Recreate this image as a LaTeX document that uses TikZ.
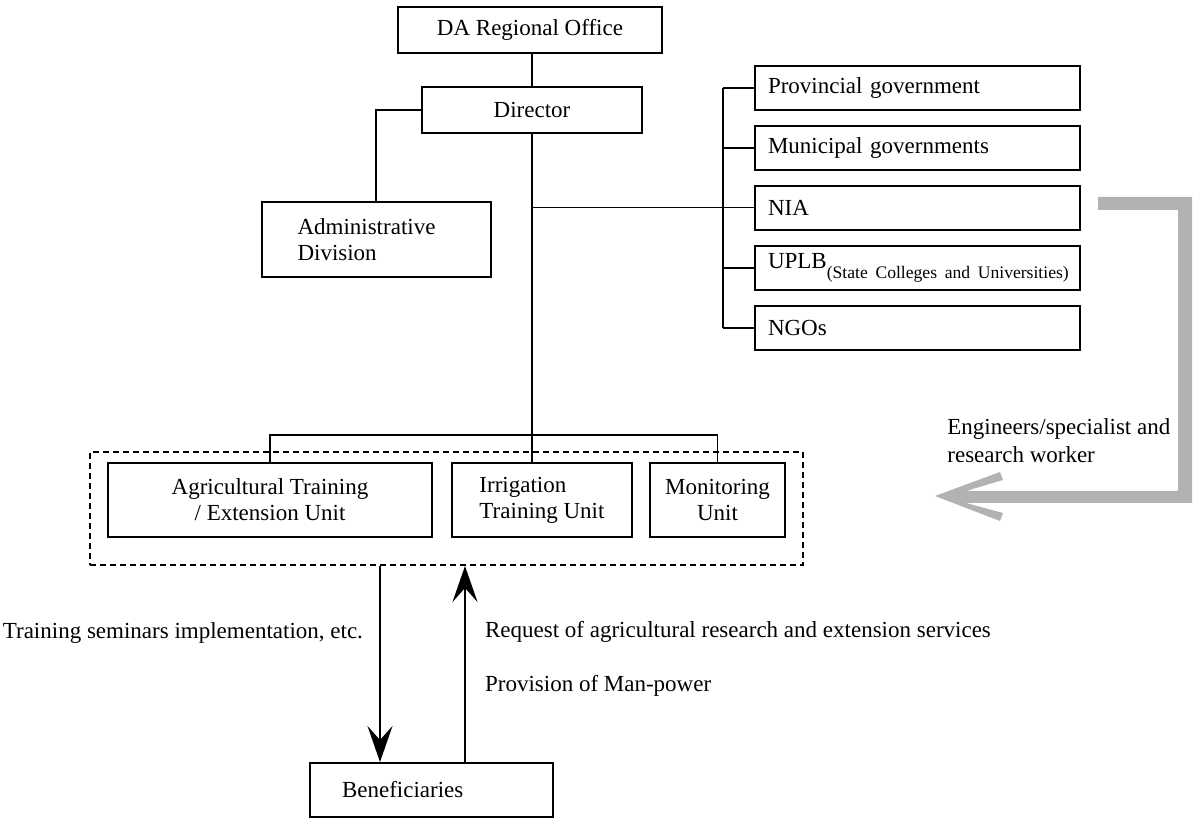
\documentclass[tikz,border=0pt]{standalone}
\usepackage{fontspec}
\setmainfont{Liberation Serif}
\usetikzlibrary{arrows.meta}

\tikzset{
  box/.style={draw,line width=1pt,inner sep=2pt,minimum height=22pt},
  lbox/.style={box,align=left,inner xsep=6.5pt,text width=149.5pt},
  link/.style={line width=0.8pt},
  flow/.style={line width=1pt,-{Stealth[length=18pt,width=12.5pt,inset=7pt]}},
  grp/.style={draw,line width=1pt,dash pattern=on 3pt off 2pt},
}

\begin{document}
\begin{tikzpicture}[x=0.5pt,y=-0.5pt,font=\fontsize{11.5}{13}\selectfont]
  \useasboundingbox (0,0) rectangle (1200,822);
  % head office
  \node[box,minimum width=132pt,minimum height=23pt] (da) at (530,30) {DA Regional Office};
  \node[box,minimum width=110pt,minimum height=23pt] (dir) at (532,110) {Director};
  \node[box,minimum width=114.5pt,minimum height=37.5pt,inner xsep=18pt,text width=78.5pt,align=left] (adm) at (376,240) {Administrative\\Division};
  % partners
  \node[lbox] (prov) at (917.5,88) {Provincial government};
  \node[lbox] (muni) at (917.5,148) {Municipal governments};
  \node[lbox] (nia) at (917.5,208) {NIA};
  \node[lbox] (uplb) at (917.5,268) {UPLB\raisebox{-5pt}{\fontsize{8.8}{10}\selectfont(State Colleges and Universities)}};
  \node[lbox] (ngo) at (917.5,328) {NGOs};
  % units
  \node[grp,minimum width=356.5pt,minimum height=56.5pt] (grp) at (446.5,508.5) {};
  \node[box,minimum width=162pt,minimum height=37pt,align=center] (agri) at (270,500) {Agricultural Training\\/ Extension Unit};
  \node[box,minimum width=90pt,minimum height=37pt,align=left] (irr) at (542,500) {Irrigation\\Training Unit};
  \node[box,minimum width=67.5pt,minimum height=37pt,align=center] (mon) at (717.5,500) {Monitoring\\Unit};
  \node[box,minimum width=121.5pt,minimum height=27pt,inner xsep=16pt,text width=89.5pt,align=left] (ben) at (431.5,790) {Beneficiaries};

  % lines
  \draw[link] (da.south -| dir.south) -- (dir.north);
  \draw[link] (dir.west) -| (adm.north);
  \draw[link] (dir.south) -- (dir.south |- irr.north);
  \draw[line width=0.5pt] (dir.south |- nia.west) -- (nia.west);
  \coordinate (rbus) at (723,0);
  \draw[link] (prov.west -| rbus) -- (ngo.west -| rbus);
  \foreach \n in {prov,muni,uplb,ngo}
    \draw[link] (\n.west -| rbus) -- (\n.west);
  \coordinate (bus) at (535,435);
  \draw[link] (agri.north) |- (bus) -| (mon.north);

  % flows to beneficiaries
  \coordinate (dnx) at (380,0);
  \coordinate (upx) at (465,0);
  \draw[flow] (grp.south -| dnx) -- (ben.north -| dnx);
  \draw[flow] (ben.north -| upx) -- (grp.south -| upx);
  \node[anchor=east] (lbltrain) at (370,633) {Training seminars implementation, etc.};
  \node[anchor=west] (lblreq) at (478,632) {Request of agricultural research and extension services};
  \node[anchor=west] (lblman) at (478,686) {Provision of Man-power};

  % engineers arrow
  \fill[gray!60] (935,496) -- (1000,472) -- (1003,480) -- (966,491) -- (1178,491) -- (1178,210)
    -- (1098,210) -- (1098,197) -- (1192,197) -- (1192,503) -- (966,503) -- (1003,513)
    -- (1000,521) -- cycle;
  \node[anchor=west,align=left,inner sep=0pt,font=\fontsize{11.5}{14}\selectfont] (lbleng) at (947,441) {Engineers/specialist and\\research worker};
\end{tikzpicture}
\end{document}
